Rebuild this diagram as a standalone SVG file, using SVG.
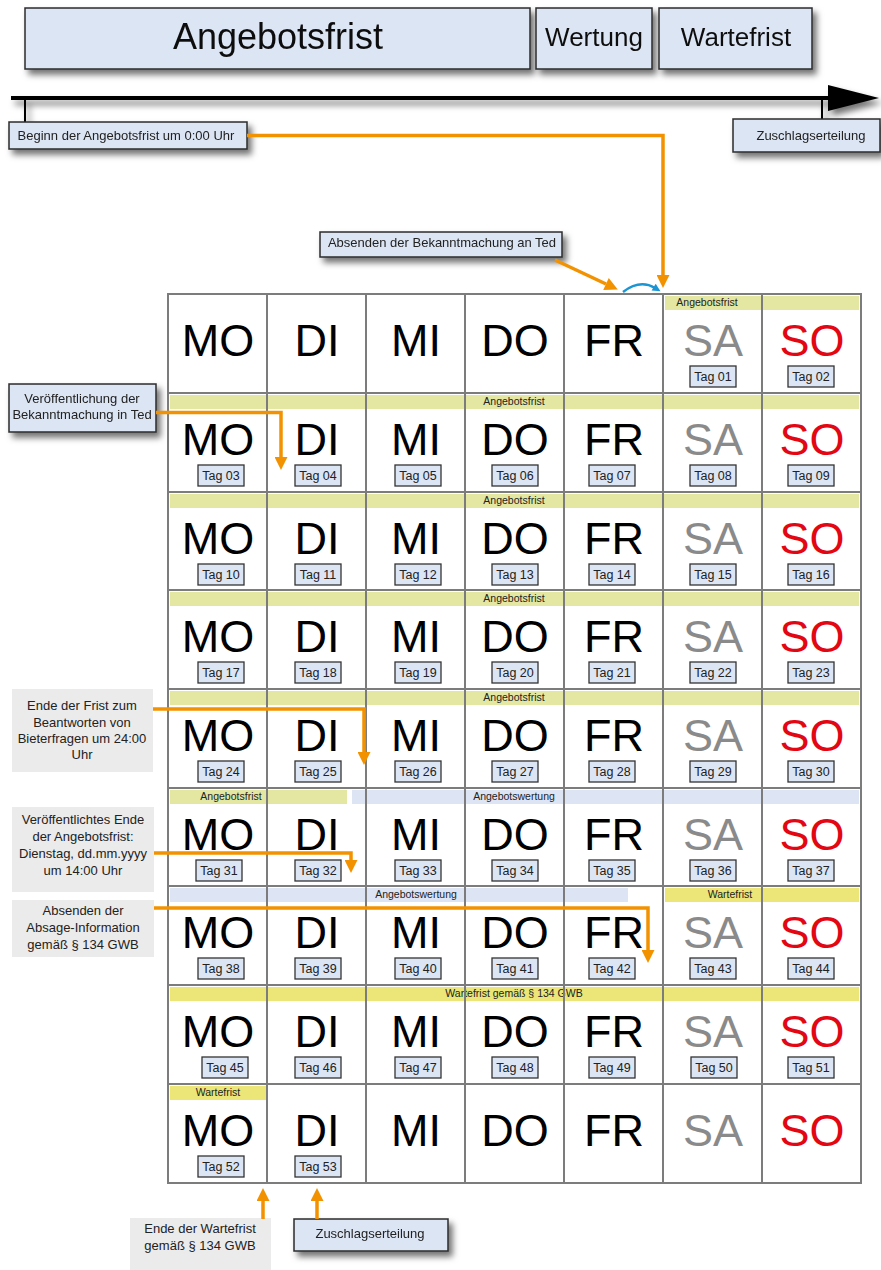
<svg xmlns="http://www.w3.org/2000/svg" width="881" height="1270" viewBox="0 0 881 1270">
  <defs>
    <filter id="shadow" x="-10%" y="-20%" width="130%" height="170%">
      <feDropShadow dx="4" dy="5" stdDeviation="3" flood-color="#000" flood-opacity="0.55"/>
    </filter>
    <marker id="arrOrange" viewBox="0 0 10 10" refX="0" refY="5" markerUnits="userSpaceOnUse" markerWidth="17" markerHeight="13" orient="auto">
      <path d="M0,0 L10,5 L0,10 z" fill="#f39200"/>
    </marker>
    <marker id="arrBlue" viewBox="0 0 10 10" refX="2" refY="5" markerUnits="userSpaceOnUse" markerWidth="9" markerHeight="8" orient="auto">
      <path d="M0,0 L10,5 L0,10 z" fill="#1b95d4"/>
    </marker>
    <style>
      text { font-family: "Liberation Sans", Arial, sans-serif; fill: #111; }
      .box { fill: #dce5f4; stroke: #2b2b2b; stroke-width: 1.5; }
      .grey { fill: #ebebeb; }
      .h1 { font-size: 36px; text-anchor: middle; }
      .h2 { font-size: 26px; text-anchor: middle; }
      .lbl { font-size: 13px; text-anchor: middle; fill: #222; }
      .day { font-size: 45px; text-anchor: middle; fill: #000; }
      .sa { fill: #8a8a8a; }
      .so { fill: #e30613; }
      .tg { fill: #dce5f4; stroke: #333; stroke-width: 1.3; }
      .tt { font-size: 12.5px; text-anchor: middle; fill: #222; }
      .bA { fill: #e3e7a2; }
      .bW { fill: #ebe677; }
      .bB { fill: #dde4f3; }
      .bt { font-size: 10.5px; text-anchor: middle; fill: #222; }
      .grid { stroke: #7c7c7c; stroke-width: 2; fill: none; }
      .or { stroke: #f39200; stroke-width: 3.5; fill: none; }
    </style>
  </defs>

  <rect width="881" height="1270" fill="#fff"/>

  <!-- phase header -->
  <g id="phase-angebotsfrist" filter="url(#shadow)">
    <rect class="box" x="25" y="8" width="505" height="61"/>
    <text class="h1" x="278" y="49">Angebotsfrist</text>
  </g>
  <g id="phase-wertung" filter="url(#shadow)">
    <rect class="box" x="536" y="8" width="116" height="61"/>
    <text class="h2" x="594" y="46">Wertung</text>
  </g>
  <g id="phase-wartefrist" filter="url(#shadow)">
    <rect class="box" x="659" y="8" width="153" height="61"/>
    <text class="h2" x="736" y="46">Wartefrist</text>
  </g>

  <!-- time axis -->
  <g id="timeline" filter="url(#shadow)">
    <line x1="11" y1="98" x2="832" y2="98" stroke="#000" stroke-width="4"/>
    <path d="M828,85 L879,98 L828,111 z" fill="#000"/>
    <line x1="25" y1="98" x2="25" y2="123" stroke="#000" stroke-width="2"/>
    <line x1="822" y1="98" x2="822" y2="120" stroke="#000" stroke-width="2"/>
  </g>

  <g id="beginn" filter="url(#shadow)">
    <rect class="box" x="9" y="122" width="238" height="27"/>
    <text class="lbl" x="126" y="140">Beginn der Angebotsfrist um 0:00 Uhr</text>
  </g>
  <g id="zuschlag-top" filter="url(#shadow)">
    <rect class="box" x="733" y="119" width="147" height="33"/>
    <text class="lbl" x="811" y="140">Zuschlagserteilung</text>
  </g>
  <g id="absenden-ted" filter="url(#shadow)">
    <rect class="box" x="320" y="232" width="242" height="25"/>
    <text class="lbl" x="442" y="247">Absenden der Bekanntmachung an Ted</text>
  </g>
  <g id="veroeffentlichung-ted" filter="url(#shadow)">
    <rect class="box" x="9" y="384" width="147" height="48"/>
    <text class="lbl" x="82" y="403">Veröffentlichung der</text>
    <text class="lbl" x="82" y="419">Bekanntmachung in Ted</text>
  </g>

  <g id="frist-bieterfragen">
    <rect class="grey" x="12" y="689" width="141" height="83"/>
    <text class="lbl" x="82" y="710">Ende der Frist zum</text>
    <text class="lbl" x="82" y="727">Beantworten von</text>
    <text class="lbl" x="82" y="743">Bieterfragen um 24:00</text>
    <text class="lbl" x="82" y="759">Uhr</text>
  </g>
  <g id="ende-angebotsfrist">
    <rect class="grey" x="12" y="807" width="142" height="85"/>
    <text class="lbl" x="83" y="824">Veröffentlichtes Ende</text>
    <text class="lbl" x="83" y="841">der Angebotsfrist:</text>
    <text class="lbl" x="83" y="858">Dienstag, dd.mm.yyyy</text>
    <text class="lbl" x="83" y="875">um 14:00 Uhr</text>
  </g>
  <g id="absage-information">
    <rect class="grey" x="12" y="900" width="142" height="57"/>
    <text class="lbl" x="83" y="915">Absenden der</text>
    <text class="lbl" x="83" y="932">Absage-Information</text>
    <text class="lbl" x="83" y="949">gemäß § 134 GWB</text>
  </g>
  <g id="ende-wartefrist">
    <rect class="grey" x="130" y="1218" width="141" height="52"/>
    <text class="lbl" x="200" y="1233">Ende der Wartefrist</text>
    <text class="lbl" x="200" y="1250">gemäß § 134 GWB</text>
  </g>
  <g id="zuschlag-bottom" filter="url(#shadow)">
    <rect class="box" x="294" y="1219" width="154" height="32"/>
    <text class="lbl" x="370" y="1238">Zuschlagserteilung</text>
  </g>

  <!-- calendar: background and period bands -->
  <rect x="168" y="294" width="693" height="889" fill="#fff"/>
  <g id="bands">
    <rect class="bA" x="665" y="296" width="194" height="14"/>
    <text class="bt" x="707" y="306">Angebotsfrist</text>
    <rect class="bA" x="170" y="395" width="689" height="14"/>
    <text class="bt" x="514" y="405">Angebotsfrist</text>
    <rect class="bA" x="170" y="494" width="689" height="14"/>
    <text class="bt" x="514" y="504">Angebotsfrist</text>
    <rect class="bA" x="170" y="592" width="689" height="14"/>
    <text class="bt" x="514" y="602">Angebotsfrist</text>
    <rect class="bA" x="170" y="691" width="689" height="14"/>
    <text class="bt" x="514" y="701">Angebotsfrist</text>
    <rect class="bA" x="170" y="790" width="177" height="14"/>
    <text class="bt" x="231" y="800">Angebotsfrist</text>
    <rect class="bB" x="352" y="790" width="507" height="14"/>
    <text class="bt" x="514" y="800">Angebotswertung</text>
    <rect class="bB" x="170" y="888" width="458" height="14"/>
    <text class="bt" x="416" y="898">Angebotswertung</text>
    <rect class="bW" x="665" y="888" width="194" height="14"/>
    <text class="bt" x="730" y="898">Wartefrist</text>
    <rect class="bW" x="170" y="987" width="689" height="14"/>
    <text class="bt" x="514" y="997">Wartefrist gemäß § 134 GWB</text>
    <rect class="bW" x="170" y="1086" width="96" height="14"/>
    <text class="bt" x="218" y="1096">Wartefrist</text>
  </g>

  <!-- calendar grid -->
  <g id="grid" class="grid">
    <rect x="168" y="294" width="693" height="889"/>
    <path d="M267,294V1183 M366,294V1183 M465,294V1183 M564,294V1183 M663,294V1183 M762,294V1183"/>
    <path d="M168,393H861 M168,492H861 M168,590H861 M168,689H861 M168,788H861 M168,886H861 M168,985H861 M168,1084H861"/>
  </g>

  <!-- week 1 -->
  <g id="week-1">
    <g id="w1-mo"><text class="day" x="218" y="356">MO</text></g>
    <g id="w1-di"><text class="day" x="317" y="356">DI</text></g>
    <g id="w1-mi"><text class="day" x="416" y="356">MI</text></g>
    <g id="w1-do"><text class="day" x="515" y="356">DO</text></g>
    <g id="w1-fr"><text class="day" x="614" y="356">FR</text></g>
    <g id="w1-sa"><text class="day sa" x="713" y="356">SA</text><rect class="tg" x="690" y="366" width="46" height="21"/><text class="tt" x="713" y="381">Tag 01</text></g>
    <g id="w1-so"><text class="day so" x="812" y="356">SO</text><rect class="tg" x="788" y="366" width="46" height="21"/><text class="tt" x="811" y="381">Tag 02</text></g>
  </g>
  <!-- week 2 -->
  <g id="week-2">
    <g id="w2-mo"><text class="day" x="218" y="455">MO</text><rect class="tg" x="198" y="465" width="46" height="21"/><text class="tt" x="221" y="480">Tag 03</text></g>
    <g id="w2-di"><text class="day" x="317" y="455">DI</text><rect class="tg" x="295" y="465" width="46" height="21"/><text class="tt" x="318" y="480">Tag 04</text></g>
    <g id="w2-mi"><text class="day" x="416" y="455">MI</text><rect class="tg" x="395" y="465" width="46" height="21"/><text class="tt" x="418" y="480">Tag 05</text></g>
    <g id="w2-do"><text class="day" x="515" y="455">DO</text><rect class="tg" x="492" y="465" width="46" height="21"/><text class="tt" x="515" y="480">Tag 06</text></g>
    <g id="w2-fr"><text class="day" x="614" y="455">FR</text><rect class="tg" x="589" y="465" width="46" height="21"/><text class="tt" x="612" y="480">Tag 07</text></g>
    <g id="w2-sa"><text class="day sa" x="713" y="455">SA</text><rect class="tg" x="690" y="465" width="46" height="21"/><text class="tt" x="713" y="480">Tag 08</text></g>
    <g id="w2-so"><text class="day so" x="812" y="455">SO</text><rect class="tg" x="788" y="465" width="46" height="21"/><text class="tt" x="811" y="480">Tag 09</text></g>
  </g>
  <!-- week 3 -->
  <g id="week-3">
    <g id="w3-mo"><text class="day" x="218" y="554">MO</text><rect class="tg" x="198" y="564" width="46" height="21"/><text class="tt" x="221" y="579">Tag 10</text></g>
    <g id="w3-di"><text class="day" x="317" y="554">DI</text><rect class="tg" x="295" y="564" width="46" height="21"/><text class="tt" x="318" y="579">Tag 11</text></g>
    <g id="w3-mi"><text class="day" x="416" y="554">MI</text><rect class="tg" x="395" y="564" width="46" height="21"/><text class="tt" x="418" y="579">Tag 12</text></g>
    <g id="w3-do"><text class="day" x="515" y="554">DO</text><rect class="tg" x="492" y="564" width="46" height="21"/><text class="tt" x="515" y="579">Tag 13</text></g>
    <g id="w3-fr"><text class="day" x="614" y="554">FR</text><rect class="tg" x="589" y="564" width="46" height="21"/><text class="tt" x="612" y="579">Tag 14</text></g>
    <g id="w3-sa"><text class="day sa" x="713" y="554">SA</text><rect class="tg" x="690" y="564" width="46" height="21"/><text class="tt" x="713" y="579">Tag 15</text></g>
    <g id="w3-so"><text class="day so" x="812" y="554">SO</text><rect class="tg" x="788" y="564" width="46" height="21"/><text class="tt" x="811" y="579">Tag 16</text></g>
  </g>
  <!-- week 4 -->
  <g id="week-4">
    <g id="w4-mo"><text class="day" x="218" y="652">MO</text><rect class="tg" x="198" y="662" width="46" height="21"/><text class="tt" x="221" y="677">Tag 17</text></g>
    <g id="w4-di"><text class="day" x="317" y="652">DI</text><rect class="tg" x="295" y="662" width="46" height="21"/><text class="tt" x="318" y="677">Tag 18</text></g>
    <g id="w4-mi"><text class="day" x="416" y="652">MI</text><rect class="tg" x="395" y="662" width="46" height="21"/><text class="tt" x="418" y="677">Tag 19</text></g>
    <g id="w4-do"><text class="day" x="515" y="652">DO</text><rect class="tg" x="492" y="662" width="46" height="21"/><text class="tt" x="515" y="677">Tag 20</text></g>
    <g id="w4-fr"><text class="day" x="614" y="652">FR</text><rect class="tg" x="589" y="662" width="46" height="21"/><text class="tt" x="612" y="677">Tag 21</text></g>
    <g id="w4-sa"><text class="day sa" x="713" y="652">SA</text><rect class="tg" x="690" y="662" width="46" height="21"/><text class="tt" x="713" y="677">Tag 22</text></g>
    <g id="w4-so"><text class="day so" x="812" y="652">SO</text><rect class="tg" x="788" y="662" width="46" height="21"/><text class="tt" x="811" y="677">Tag 23</text></g>
  </g>
  <!-- week 5 -->
  <g id="week-5">
    <g id="w5-mo"><text class="day" x="218" y="751">MO</text><rect class="tg" x="198" y="761" width="46" height="21"/><text class="tt" x="221" y="776">Tag 24</text></g>
    <g id="w5-di"><text class="day" x="317" y="751">DI</text><rect class="tg" x="295" y="761" width="46" height="21"/><text class="tt" x="318" y="776">Tag 25</text></g>
    <g id="w5-mi"><text class="day" x="416" y="751">MI</text><rect class="tg" x="395" y="761" width="46" height="21"/><text class="tt" x="418" y="776">Tag 26</text></g>
    <g id="w5-do"><text class="day" x="515" y="751">DO</text><rect class="tg" x="492" y="761" width="46" height="21"/><text class="tt" x="515" y="776">Tag 27</text></g>
    <g id="w5-fr"><text class="day" x="614" y="751">FR</text><rect class="tg" x="589" y="761" width="46" height="21"/><text class="tt" x="612" y="776">Tag 28</text></g>
    <g id="w5-sa"><text class="day sa" x="713" y="751">SA</text><rect class="tg" x="690" y="761" width="46" height="21"/><text class="tt" x="713" y="776">Tag 29</text></g>
    <g id="w5-so"><text class="day so" x="812" y="751">SO</text><rect class="tg" x="788" y="761" width="46" height="21"/><text class="tt" x="811" y="776">Tag 30</text></g>
  </g>
  <!-- week 6 -->
  <g id="week-6">
    <g id="w6-mo"><text class="day" x="218" y="850">MO</text><rect class="tg" x="196" y="860" width="46" height="21"/><text class="tt" x="219" y="875">Tag 31</text></g>
    <g id="w6-di"><text class="day" x="317" y="850">DI</text><rect class="tg" x="295" y="860" width="46" height="21"/><text class="tt" x="318" y="875">Tag 32</text></g>
    <g id="w6-mi"><text class="day" x="416" y="850">MI</text><rect class="tg" x="395" y="860" width="46" height="21"/><text class="tt" x="418" y="875">Tag 33</text></g>
    <g id="w6-do"><text class="day" x="515" y="850">DO</text><rect class="tg" x="492" y="860" width="46" height="21"/><text class="tt" x="515" y="875">Tag 34</text></g>
    <g id="w6-fr"><text class="day" x="614" y="850">FR</text><rect class="tg" x="589" y="860" width="46" height="21"/><text class="tt" x="612" y="875">Tag 35</text></g>
    <g id="w6-sa"><text class="day sa" x="713" y="850">SA</text><rect class="tg" x="690" y="860" width="46" height="21"/><text class="tt" x="713" y="875">Tag 36</text></g>
    <g id="w6-so"><text class="day so" x="812" y="850">SO</text><rect class="tg" x="788" y="860" width="46" height="21"/><text class="tt" x="811" y="875">Tag 37</text></g>
  </g>
  <!-- week 7 -->
  <g id="week-7">
    <g id="w7-mo"><text class="day" x="218" y="948">MO</text><rect class="tg" x="198" y="958" width="46" height="21"/><text class="tt" x="221" y="973">Tag 38</text></g>
    <g id="w7-di"><text class="day" x="317" y="948">DI</text><rect class="tg" x="295" y="958" width="46" height="21"/><text class="tt" x="318" y="973">Tag 39</text></g>
    <g id="w7-mi"><text class="day" x="416" y="948">MI</text><rect class="tg" x="395" y="958" width="46" height="21"/><text class="tt" x="418" y="973">Tag 40</text></g>
    <g id="w7-do"><text class="day" x="515" y="948">DO</text><rect class="tg" x="492" y="958" width="46" height="21"/><text class="tt" x="515" y="973">Tag 41</text></g>
    <g id="w7-fr"><text class="day" x="614" y="948">FR</text><rect class="tg" x="589" y="958" width="46" height="21"/><text class="tt" x="612" y="973">Tag 42</text></g>
    <g id="w7-sa"><text class="day sa" x="713" y="948">SA</text><rect class="tg" x="690" y="958" width="46" height="21"/><text class="tt" x="713" y="973">Tag 43</text></g>
    <g id="w7-so"><text class="day so" x="812" y="948">SO</text><rect class="tg" x="788" y="958" width="46" height="21"/><text class="tt" x="811" y="973">Tag 44</text></g>
  </g>
  <!-- week 8 -->
  <g id="week-8">
    <g id="w8-mo"><text class="day" x="218" y="1047">MO</text><rect class="tg" x="202" y="1057" width="46" height="21"/><text class="tt" x="225" y="1072">Tag 45</text></g>
    <g id="w8-di"><text class="day" x="317" y="1047">DI</text><rect class="tg" x="295" y="1057" width="46" height="21"/><text class="tt" x="318" y="1072">Tag 46</text></g>
    <g id="w8-mi"><text class="day" x="416" y="1047">MI</text><rect class="tg" x="395" y="1057" width="46" height="21"/><text class="tt" x="418" y="1072">Tag 47</text></g>
    <g id="w8-do"><text class="day" x="515" y="1047">DO</text><rect class="tg" x="492" y="1057" width="46" height="21"/><text class="tt" x="515" y="1072">Tag 48</text></g>
    <g id="w8-fr"><text class="day" x="614" y="1047">FR</text><rect class="tg" x="589" y="1057" width="46" height="21"/><text class="tt" x="612" y="1072">Tag 49</text></g>
    <g id="w8-sa"><text class="day sa" x="713" y="1047">SA</text><rect class="tg" x="691" y="1057" width="46" height="21"/><text class="tt" x="714" y="1072">Tag 50</text></g>
    <g id="w8-so"><text class="day so" x="812" y="1047">SO</text><rect class="tg" x="788" y="1057" width="46" height="21"/><text class="tt" x="811" y="1072">Tag 51</text></g>
  </g>
  <!-- week 9 -->
  <g id="week-9">
    <g id="w9-mo"><text class="day" x="218" y="1146">MO</text><rect class="tg" x="198" y="1156" width="46" height="21"/><text class="tt" x="221" y="1171">Tag 52</text></g>
    <g id="w9-di"><text class="day" x="317" y="1146">DI</text><rect class="tg" x="295" y="1156" width="46" height="21"/><text class="tt" x="318" y="1171">Tag 53</text></g>
    <g id="w9-mi"><text class="day" x="416" y="1146">MI</text></g>
    <g id="w9-do"><text class="day" x="515" y="1146">DO</text></g>
    <g id="w9-fr"><text class="day" x="614" y="1146">FR</text></g>
    <g id="w9-sa"><text class="day sa" x="713" y="1146">SA</text></g>
    <g id="w9-so"><text class="day so" x="812" y="1146">SO</text></g>
  </g>

  <!-- connectors -->
  <g id="connectors">
    <path class="or" d="M247,135.5 H663 V275" marker-end="url(#arrOrange)"/>
    <path class="or" d="M555,260 L606,284" marker-end="url(#arrOrange)"/>
    <path d="M623,292 Q640,279 655,288" fill="none" stroke="#1b95d4" stroke-width="2.5" marker-end="url(#arrBlue)"/>
    <path class="or" d="M156,412.5 H281 V457" marker-end="url(#arrOrange)"/>
    <path class="or" d="M153,709 H364 V752" marker-end="url(#arrOrange)"/>
    <path class="or" d="M154,853 H351 V860" marker-end="url(#arrOrange)"/>
    <path class="or" d="M154,908 H648 V950" marker-end="url(#arrOrange)"/>
    <path class="or" d="M263,1219 V1201" marker-end="url(#arrOrange)"/>
    <path class="or" d="M317,1219 V1201" marker-end="url(#arrOrange)"/>
  </g>
</svg>
